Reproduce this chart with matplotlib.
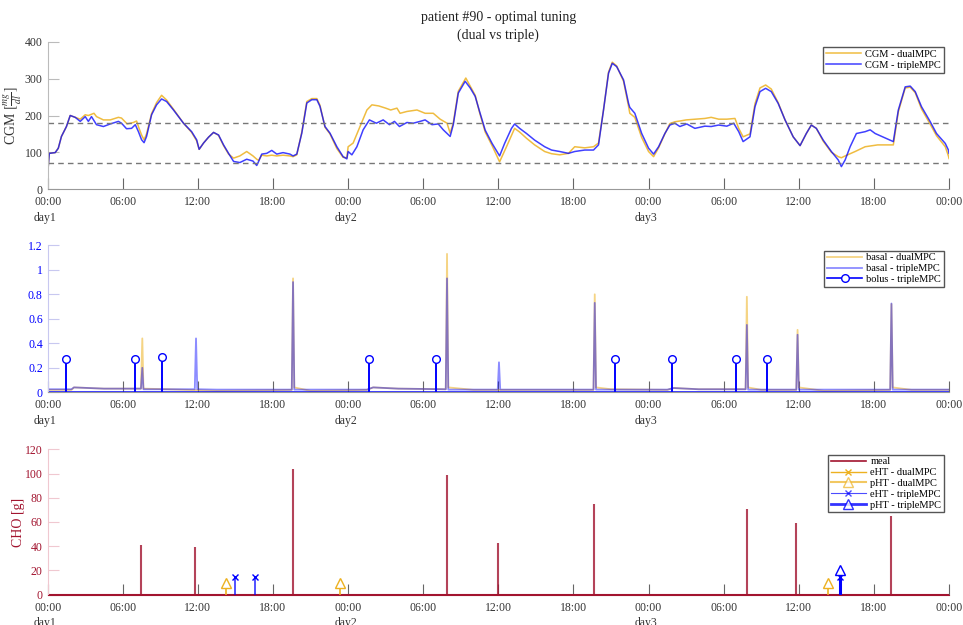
import matplotlib.pyplot as plt
from matplotlib.lines import Line2D
import numpy as np

plt.rcParams['font.family'] = ['Liberation Serif', 'DejaVu Serif']
plt.rcParams['mathtext.fontset'] = 'stix'

# --- CGM traces (hour, mg/dl) ---
cgm_triple = [
    (0, 41), (0.13, 97), (0.6, 99), (0.85, 111), (1.1, 143), (1.5, 170), (1.8, 200), (2.2, 195),
    (2.6, 184), (3.0, 197), (3.25, 184), (3.5, 197), (3.9, 175), (4.45, 170), (5.0, 177), (5.65, 184),
    (5.9, 179), (6.3, 164), (6.7, 165), (7.0, 175), (7.25, 156), (7.5, 134), (7.7, 126), (7.9, 143),
    (8.3, 202), (8.7, 229), (9.1, 245), (9.5, 238), (10.05, 215), (10.45, 197), (10.85, 179), (11.5, 156),
    (11.9, 134), (12.1, 108), (12.45, 125), (12.85, 141), (13.25, 154), (13.65, 147), (14.05, 120),
    (14.45, 97), (14.85, 75), (15.35, 72), (15.9, 81), (16.4, 76), (16.7, 64), (16.85, 75), (17.1, 95),
    (17.5, 97), (17.9, 105), (18.3, 95), (18.8, 99), (19.35, 95), (19.6, 90), (19.9, 95), (20.3, 152),
    (20.7, 234), (21.1, 243), (21.5, 243), (21.75, 225), (22.15, 170), (22.55, 152), (23.1, 115),
    (23.6, 88), (23.9, 82), (24.0, 102), (24.3, 93), (24.7, 115), (25.2, 161), (25.7, 188), (26.25, 179),
    (26.8, 188), (27.3, 175), (27.7, 184), (28.1, 170), (28.7, 181), (29.2, 179), (29.75, 184),
    (30.15, 188), (30.7, 175), (31.2, 177), (31.6, 161), (32.15, 143), (32.4, 175), (32.8, 261),
    (33.35, 293), (33.75, 275), (34.15, 252), (34.5, 211), (34.95, 160), (35.5, 124), (36.1, 90),
    (36.5, 124), (37.05, 165), (37.3, 177), (37.7, 165), (38.25, 151), (38.9, 133), (39.7, 115),
    (40.25, 106), (40.9, 102), (41.6, 97), (42.1, 102), (42.9, 106), (43.6, 106), (44.0, 120),
    (44.4, 215), (44.8, 315), (45.1, 342), (45.45, 333), (46.0, 297), (46.4, 233), (46.5, 222),
    (46.9, 206), (47.45, 151), (48.0, 111), (48.4, 95), (48.8, 115), (49.3, 151), (49.7, 174),
    (50.1, 179), (50.5, 170), (51.05, 177), (51.7, 165), (52.5, 171), (53.0, 170), (53.6, 174),
    (54.25, 171), (54.8, 179), (55.2, 156), (55.55, 129), (56.1, 142), (56.5, 224), (56.9, 265),
    (57.35, 274), (57.8, 265), (58.35, 233), (58.9, 188), (59.55, 142), (60.1, 118), (60.6, 151),
    (61.0, 174), (61.4, 165), (61.95, 133), (62.6, 102), (63.15, 79), (63.4, 61), (63.7, 79),
    (64.1, 115), (64.6, 151), (65.3, 156), (65.7, 161), (66.1, 151), (66.75, 141), (67.55, 129),
    (67.95, 215), (68.5, 278), (68.9, 280), (69.3, 265), (69.8, 224), (70.5, 183), (71.0, 151),
    (71.7, 124), (71.95, 106), (72.0, 97),
]
cgm_dual = [
    (0, 41), (0.13, 97), (0.6, 99), (0.85, 111), (1.1, 143), (1.5, 170), (1.8, 200), (2.2, 195),
    (2.6, 190), (3.0, 202), (3.25, 200), (3.7, 206), (3.9, 197), (4.45, 188), (5.0, 188), (5.65, 195),
    (5.9, 193), (6.35, 177), (6.85, 181), (7.1, 185), (7.3, 165), (7.5, 147), (7.7, 134), (7.9, 150),
    (8.3, 205), (8.7, 235), (9.1, 255), (9.5, 242), (10.05, 217), (10.45, 198), (10.85, 179),
    (11.5, 154), (11.9, 131), (12.1, 108), (12.45, 125), (12.85, 141), (13.25, 154), (13.65, 146),
    (14.05, 118), (14.45, 95), (14.85, 84), (15.35, 90), (15.9, 102), (16.4, 90), (16.7, 81),
    (16.85, 78), (17.1, 92), (17.5, 90), (17.9, 92), (18.3, 90), (18.8, 92), (19.35, 90), (19.6, 88),
    (19.9, 93), (20.3, 155), (20.7, 238), (21.1, 246), (21.5, 246), (21.75, 228), (22.15, 168),
    (22.55, 150), (23.1, 110), (23.6, 86), (23.9, 85), (24.0, 115), (24.4, 125), (24.95, 170),
    (25.5, 215), (25.9, 229), (26.45, 226), (27.0, 220), (27.4, 215), (27.9, 220), (28.15, 206),
    (28.7, 211), (29.5, 215), (30.15, 206), (30.8, 206), (31.35, 190), (31.9, 179), (32.15, 152),
    (32.4, 180), (32.8, 266), (33.4, 302), (33.75, 280), (34.15, 255), (34.5, 208), (34.95, 155),
    (35.5, 118), (36.1, 74), (36.65, 115), (37.3, 165), (37.7, 155), (38.25, 138), (38.9, 120),
    (39.7, 102), (40.25, 96), (40.9, 93), (41.6, 97), (42.1, 115), (42.9, 112), (43.6, 115),
    (44.0, 125), (44.4, 215), (44.8, 318), (45.1, 345), (45.45, 335), (46.0, 293), (46.4, 225),
    (46.5, 206), (46.9, 195), (47.45, 140), (48.0, 102), (48.4, 88), (48.8, 112), (49.3, 150),
    (49.7, 178), (50.1, 183), (50.5, 185), (51.0, 188), (51.7, 190), (52.5, 192), (53.0, 195),
    (53.6, 190), (54.25, 190), (54.9, 192), (55.2, 165), (55.55, 142), (56.1, 150), (56.5, 232),
    (56.9, 275), (57.35, 283), (57.8, 272), (58.35, 235), (58.9, 188), (59.55, 142), (60.1, 118),
    (60.6, 151), (61.0, 174), (61.4, 165), (61.95, 130), (62.6, 100), (63.15, 88), (63.4, 85),
    (63.7, 90), (64.5, 102), (65.3, 115), (66.3, 120), (67.55, 120), (67.95, 210), (68.5, 275),
    (68.9, 277), (69.3, 262), (69.8, 218), (70.5, 176), (71.0, 145), (71.7, 115), (71.95, 90),
    (72.0, 83),
]
target_low, target_high = 70, 180

# --- insulin (hour, U) ---
basal_triple = [
    (0, 0.025), (1.9, 0.025), (2.1, 0.04), (4.5, 0.03), (7.45, 0.03), (7.56, 0.20), (7.65, 0.025),
    (11.75, 0.025), (11.85, 0.44), (11.95, 0.025), (13.5, 0.022), (19.5, 0.022), (19.6, 0.90),
    (19.7, 0.022), (25.5, 0.022), (26.0, 0.04), (28.0, 0.03), (31.8, 0.025), (31.9, 0.93),
    (32.0, 0.022), (35.95, 0.022), (36.05, 0.245), (36.15, 0.022), (43.6, 0.022), (43.7, 0.73),
    (43.8, 0.022), (49.5, 0.022), (50.0, 0.035), (52.0, 0.025), (55.75, 0.025), (55.85, 0.55),
    (55.95, 0.022), (59.8, 0.022), (59.9, 0.47), (60.0, 0.022), (67.3, 0.022), (67.4, 0.725),
    (67.5, 0.022), (72.0, 0.022),
]
basal_dual = [
    (0, 0.02), (1.9, 0.02), (2.1, 0.04), (4.5, 0.03), (7.45, 0.03), (7.56, 0.44), (7.65, 0.03),
    (9.5, 0.025), (13.5, 0.012), (19.5, 0.02), (19.6, 0.93), (19.7, 0.04), (21.0, 0.012),
    (25.5, 0.02), (26.0, 0.04), (28.0, 0.03), (31.8, 0.025), (31.9, 1.13), (32.0, 0.04),
    (34.0, 0.02), (43.6, 0.02), (43.7, 0.80), (43.8, 0.04), (45.0, 0.025), (49.5, 0.02),
    (50.0, 0.035), (52.0, 0.025), (55.75, 0.025), (55.85, 0.78), (55.95, 0.04), (57.0, 0.02),
    (59.8, 0.02), (59.9, 0.51), (60.0, 0.04), (62.0, 0.012), (67.3, 0.02), (67.4, 0.72),
    (67.5, 0.04), (69.0, 0.02), (72.0, 0.02),
]
bolus_t = [1.46, 6.95, 9.15, 25.65, 31.0, 45.35, 49.85, 55.0, 57.45]
bolus_v = [0.27, 0.27, 0.29, 0.27, 0.27, 0.27, 0.27, 0.27, 0.27]

# --- carbohydrates (hour, g) ---
meal_t = [7.48, 11.8, 19.57, 31.87, 36.0, 43.66, 55.83, 59.8, 67.4]
meal_v = [41, 39, 104, 99, 43, 75, 71, 59, 65]
pht_dual_t = [14.25, 23.35, 62.35]
pht_dual_v = [10, 10, 10]
eht_triple_t = [14.99, 16.56, 63.3]
eht_triple_v = [15, 15, 15]
pht_triple_t = [63.3]
pht_triple_v = [20]

hour_ticks = list(range(0, 73, 6))
hour_labels = ['00:00\nday1', '06:00', '12:00', '18:00', '00:00\nday2', '06:00', '12:00', '18:00',
               '00:00\nday3', '06:00', '12:00', '18:00', '00:00']

orange = '#EDB120'
blue = '#0000FF'
crimson = '#A2142F'
legend_kw = dict(loc='upper right', fontsize=7.5, fancybox=False, edgecolor='#555555',
                 framealpha=1, borderaxespad=0.5, handlelength=3.4, handletextpad=0.4,
                 borderpad=0.25, labelspacing=0.15)


def style_axis(ax, ycolor, spine_color):
    for s in ['top', 'right']:
        ax.spines[s].set_visible(False)
    ax.spines['left'].set_color(spine_color)
    ax.spines['bottom'].set_color('#999999')
    ax.set_xlim(0, 72)
    ax.set_xticks(hour_ticks)
    ax.set_xticklabels(hour_labels)
    for lab in ax.get_xticklabels():
        lab.set_multialignment('left')
        lab.set_linespacing(1.4)
    ax.tick_params(axis='x', direction='in', length=8, width=0.8, color='#666666',
                   labelsize=8.5, labelcolor='#333333', pad=5)
    ax.tick_params(axis='y', direction='in', length=8, width=0.8, color=spine_color,
                   labelsize=8.5, labelcolor=ycolor)


fig = plt.figure(figsize=(9.63, 6.25), dpi=100)
ax1 = fig.add_axes([0.0495, 0.6976, 0.936, 0.2352])
ax2 = fig.add_axes([0.0495, 0.3723, 0.936, 0.2352])
ax3 = fig.add_axes([0.0495, 0.0485, 0.936, 0.2326])

# CGM panel
td, vd = np.array(cgm_dual).T
tt, vt = np.array(cgm_triple).T
ax1.plot(td, vd, color=orange, lw=1.1, alpha=0.85, label='CGM - dualMPC')
ax1.plot(tt, vt, color=blue, lw=1.1, alpha=0.75, label='CGM - tripleMPC')
ax1.axhline(target_high, color='#777777', ls='--', lw=1.0, dashes=(4, 3))
ax1.axhline(target_low, color='#777777', ls='--', lw=1.0, dashes=(4, 3))
ax1.set_ylim(0, 400)
ax1.set_yticks([0, 100, 200, 300, 400])
style_axis(ax1, '#333333', '#bbbbbb')
ax1.set_ylabel(r'CGM $[\frac{mg}{dl}]$', fontsize=10, color='#333333', labelpad=0)
ax1.legend(**legend_kw)
ax1.set_title('patient #90 - optimal tuning\n(dual vs triple)', fontsize=10, color='#222222',
              pad=1.5, linespacing=1.45)

# insulin panel
bt, bv = np.array(basal_triple).T
dt, dv = np.array(basal_dual).T
ax2.plot(dt, dv, color=orange, lw=1.3, alpha=0.55, label='basal - dualMPC')
ax2.plot(bt, bv, color=blue, lw=1.3, alpha=0.45, label='basal - tripleMPC')
ax2.axhline(0, color=blue, lw=2.0, alpha=0.85)
ax2.vlines(bolus_t, 0, bolus_v, color=blue, lw=1.4)
ax2.plot(bolus_t, bolus_v, 'o', color=blue, mfc='white', ms=5.5, mew=1.0, ls='none')
ax2.set_ylim(0, 1.2)
ax2.set_yticks([0, 0.2, 0.4, 0.6, 0.8, 1, 1.2])
ax2.set_yticklabels(['0', '0.2', '0.4', '0.6', '0.8', '1', '1.2'])
style_axis(ax2, blue, '#c8c8f0')
bolus_handle = Line2D([], [], color=blue, lw=1.2, marker='o', mfc='white', ms=5.5)
h2, l2 = ax2.get_legend_handles_labels()
ax2.legend(h2 + [bolus_handle], l2 + ['bolus - tripleMPC'], **legend_kw)

# carbohydrate panel
ax3.axhline(0, color=crimson, lw=1.5)
ax3.vlines(meal_t, 0, meal_v, color=crimson, lw=1.5, alpha=0.8)
ax3.vlines(pht_dual_t, 0, pht_dual_v, color=orange, lw=1.2)
ax3.plot(pht_dual_t, pht_dual_v, '^', color=orange, mfc='white', ms=7, mew=1.0, ls='none')
ax3.vlines(eht_triple_t, 0, eht_triple_v, color=blue, lw=1.2, alpha=0.8)
ax3.plot(eht_triple_t, eht_triple_v, 'x', color=blue, ms=5, mew=1.0, ls='none')
ax3.vlines(pht_triple_t, 0, pht_triple_v, color=blue, lw=2.2)
ax3.plot(pht_triple_t, pht_triple_v, '^', color=blue, mfc='white', ms=7, mew=1.0, ls='none')
ax3.set_ylim(0, 120)
ax3.set_yticks(range(0, 121, 20))
style_axis(ax3, crimson, '#f0c8d0')
ax3.spines['bottom'].set_color(crimson)
ax3.set_ylabel('CHO [g]', fontsize=10, color=crimson, labelpad=0)
handles3 = [
    Line2D([], [], color=crimson, lw=1.2),
    Line2D([], [], color=orange, lw=1.0, marker='x', ms=4),
    Line2D([], [], color=orange, lw=1.5, alpha=0.7, marker='^', mfc='white', ms=7),
    Line2D([], [], color=blue, lw=0.8, alpha=0.7, marker='x', ms=4),
    Line2D([], [], color=blue, lw=2.0, alpha=0.8, marker='^', mfc='white', ms=7),
]
labels3 = ['meal', 'eHT - dualMPC', 'pHT - dualMPC', 'eHT - tripleMPC', 'pHT - tripleMPC']
ax3.legend(handles3, labels3, **legend_kw)

fig.savefig('out.png', dpi=100)
